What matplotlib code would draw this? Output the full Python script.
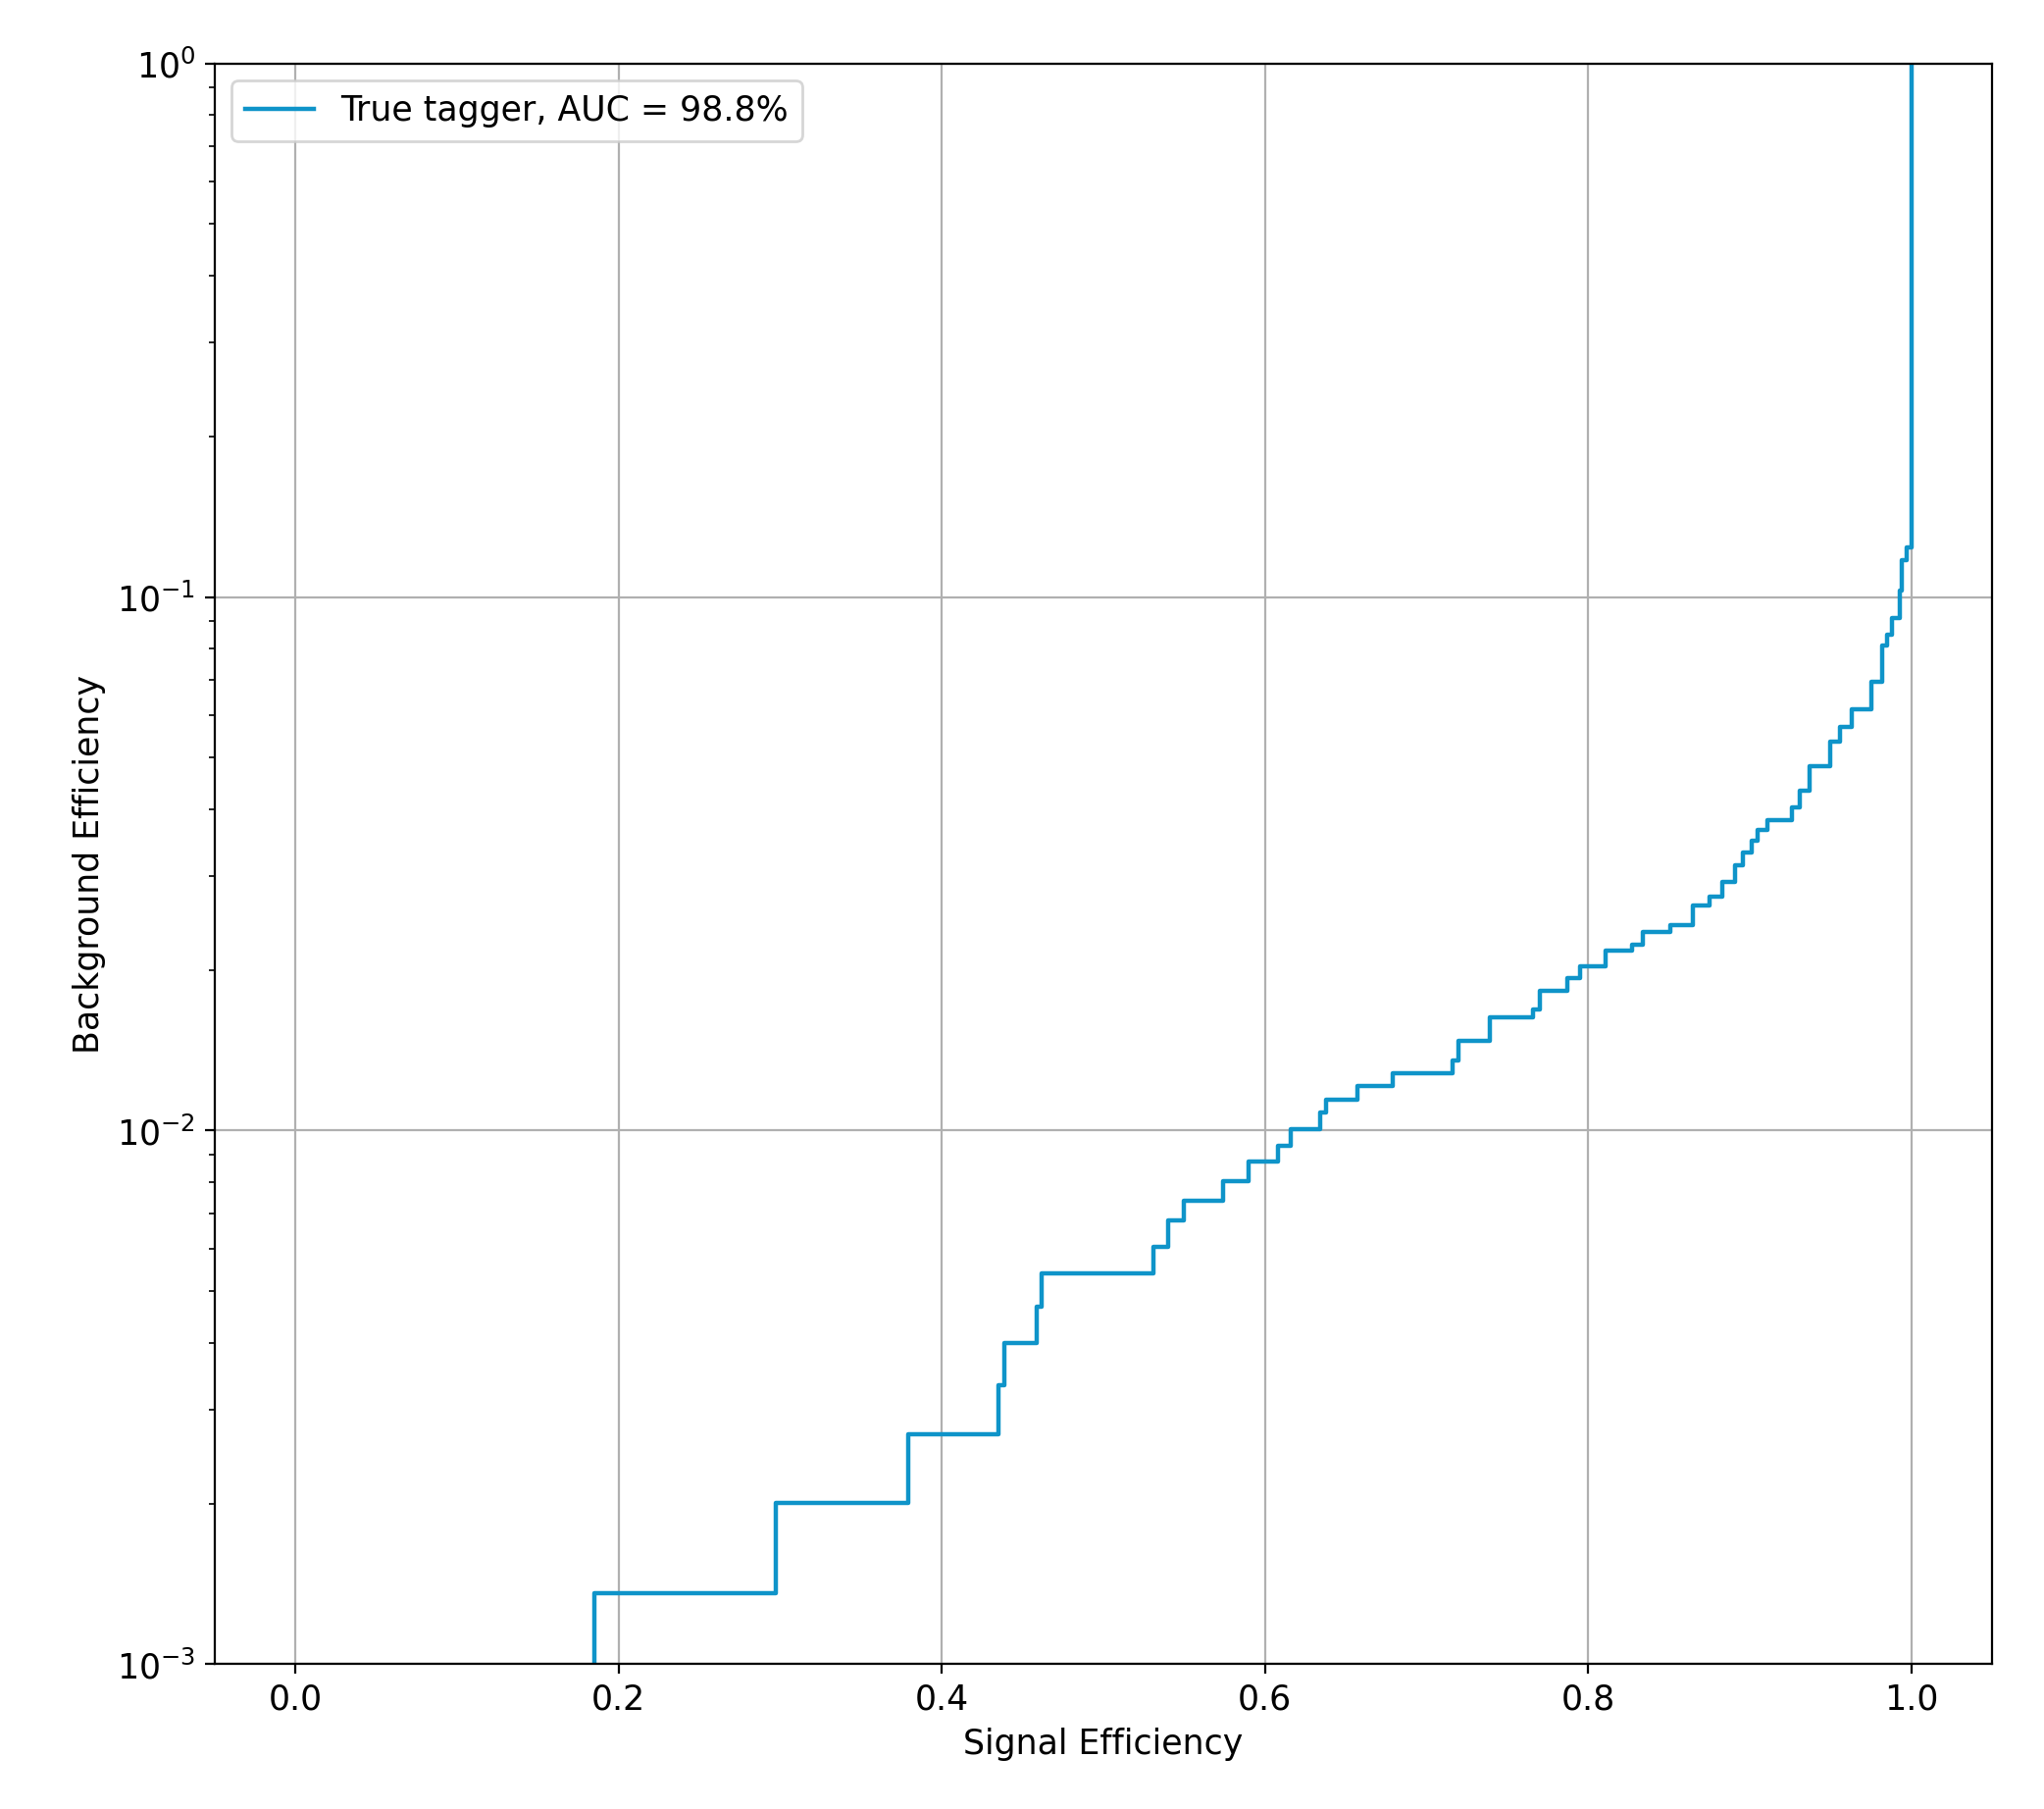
import matplotlib
matplotlib.use("Agg")
import matplotlib.pyplot as plt

# ROC corner points: signal efficiency where each
# background-efficiency level begins (drawn as post steps)
signal_eff = [0.185, 0.185, 0.297, 0.379, 0.435, 0.439, 0.459, 0.462,
              0.531, 0.540, 0.550, 0.574, 0.590, 0.608, 0.616, 0.634,
              0.638, 0.657, 0.679, 0.716, 0.720, 0.739, 0.766, 0.770,
              0.787, 0.795, 0.811, 0.827, 0.834, 0.851, 0.865, 0.875,
              0.883, 0.891, 0.896, 0.901, 0.905, 0.911, 0.926, 0.931,
              0.937, 0.950, 0.956, 0.963, 0.975, 0.982, 0.985, 0.988,
              0.993, 0.994, 0.997, 1.0]
background_eff = [0.0006, 1.36e-3, 2.01e-3, 2.70e-3, 3.33e-3, 4.0e-3, 4.67e-3, 5.4e-3,
                  6.06e-3, 6.78e-3, 7.38e-3, 8.04e-3, 8.75e-3, 9.38e-3, 1.007e-2, 1.081e-2,
                  1.143e-2, 1.21e-2, 1.28e-2, 1.355e-2, 1.47e-2, 1.63e-2, 1.69e-2, 1.83e-2,
                  1.93e-2, 2.03e-2, 2.17e-2, 2.23e-2, 2.36e-2, 2.43e-2, 2.64e-2, 2.75e-2,
                  2.92e-2, 3.14e-2, 3.32e-2, 3.50e-2, 3.66e-2, 3.81e-2, 4.03e-2, 4.34e-2,
                  4.82e-2, 5.35e-2, 5.71e-2, 6.15e-2, 6.93e-2, 8.1e-2, 8.5e-2, 9.12e-2,
                  0.103, 0.117, 0.124, 1.0]
auc = 98.8

plt.rcParams['font.size'] = 12.5
fig = plt.figure(figsize=(10.42, 9.22), dpi=200)
ax = fig.add_axes([0.105, 0.080, 0.8696, 0.885])

ax.step(signal_eff, background_eff, where='post', color='#0f94c9', lw=1.6,
        label=f'True tagger, AUC = {auc}%')
ax.set_yscale('log')
ax.set_xlim(-0.05, 1.05)
ax.set_ylim(1e-3, 1)
ax.set_xlabel('Signal Efficiency')
ax.set_ylabel('Background Efficiency')
ax.grid(True)
ax.legend(loc='upper left')

plt.savefig('out.png', dpi=200)
